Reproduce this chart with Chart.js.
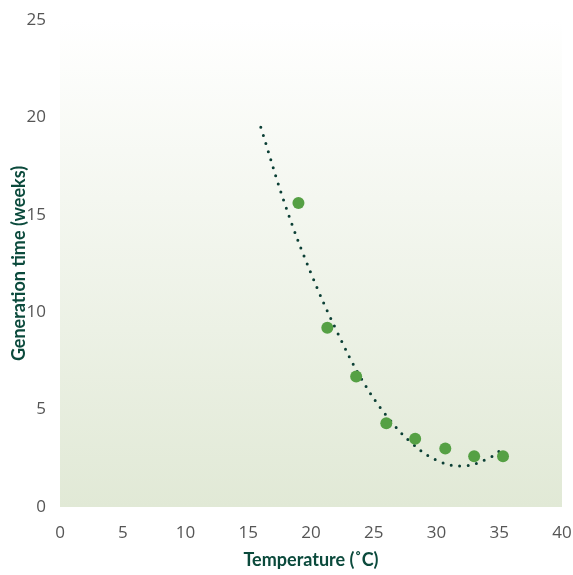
<!DOCTYPE html>
<html>
<head>
<meta charset="utf-8">
<script src="https://cdn.jsdelivr.net/npm/chart.js@4"></script>
<style>
  html, body { margin: 0; padding: 0; background: #ffffff; }
  #wrap { width: 573px; height: 575px; }
</style>
</head>
<body>
<div id="wrap"><canvas id="genChart" width="573" height="575"></canvas></div>
<script>
// measured generation times
const tempC = [19, 21.3, 23.6, 26, 28.3, 30.7, 33, 35.3];
const genWeeks = [15.6, 9.2, 6.7, 4.3, 3.5, 3.0, 2.6, 2.6];

// dotted trend curve
const trendTemp = [16, 18, 20, 22, 24, 26, 28, 30, 32, 34, 35.3];
const trendWeeks = [19.5, 15.4, 12.0, 9.1, 6.6, 4.7, 3.3, 2.4, 2.1, 2.45, 3.0];

const xTicks = [0, 5, 10, 15, 20, 25, 30, 35, 40];
const yTicks = [0, 5, 10, 15, 20, 25];

const plotBackground = {
    id: 'plotBackground',
    beforeDraw(chart) {
        const { ctx, chartArea } = chart;
        const g = ctx.createLinearGradient(0, chartArea.top, 0, chartArea.bottom);
        g.addColorStop(0, '#ffffff');
        g.addColorStop(1, '#e1e9d6');
        ctx.save();
        ctx.fillStyle = g;
        ctx.fillRect(chartArea.left, chartArea.top, chartArea.right - chartArea.left, chartArea.bottom - chartArea.top);
        ctx.restore();
    }
};

const tickFont = { family: 'Open Sans', size: 17 };
const titleFont = { family: 'Lato', size: 18, weight: 'bold' };

new Chart(document.getElementById('genChart').getContext('2d'), {
    type: 'scatter',
    data: {
        datasets: [
            {
                data: tempC.map((t, i) => ({ x: t, y: genWeeks[i] })),
                backgroundColor: '#55a044',
                borderWidth: 0,
                pointRadius: 6,
                order: 1
            },
            {
                data: trendTemp.map((t, i) => ({ x: t, y: trendWeeks[i] })),
                showLine: true,
                pointRadius: 0,
                borderColor: '#0b3f35',
                borderWidth: 3,
                borderDash: [0, 8.5],
                borderCapStyle: 'round',
                tension: 0.4,
                order: 2
            }
        ]
    },
    options: {
        responsive: false,
        animation: false,
        layout: { padding: { top: 20, right: 11, left: 2, bottom: 0 } },
        plugins: {
            legend: { display: false },
            tooltip: { enabled: false }
        },
        scales: {
            x: {
                type: 'linear',
                min: 0,
                max: 40,
                afterBuildTicks: s => { s.ticks = xTicks.map(v => ({ value: v })); },
                grid: { display: false },
                border: { display: false },
                ticks: { color: '#555555', font: tickFont, padding: 8 },
                title: {
                    display: true,
                    text: 'Temperature (˚C)',
                    color: '#0b4a3c',
                    font: titleFont,
                    padding: { top: 4 }
                },
                afterFit: s => { s.height = 68; s.paddingRight = 0; s.paddingLeft = 0; }
            },
            y: {
                min: 0,
                max: 25,
                afterBuildTicks: s => { s.ticks = yTicks.map(v => ({ value: v })); },
                grid: { display: false },
                border: { display: false },
                ticks: { color: '#555555', font: tickFont, padding: 6 },
                title: {
                    display: true,
                    text: 'Generation time (weeks)',
                    color: '#0b4a3c',
                    font: titleFont,
                    padding: { top: 6, bottom: 4 }
                },
                afterFit: s => { s.width = 58; s.paddingTop = 0; s.paddingBottom = 0; }
            }
        }
    },
    plugins: [plotBackground]
});
</script>
</body>
</html>
